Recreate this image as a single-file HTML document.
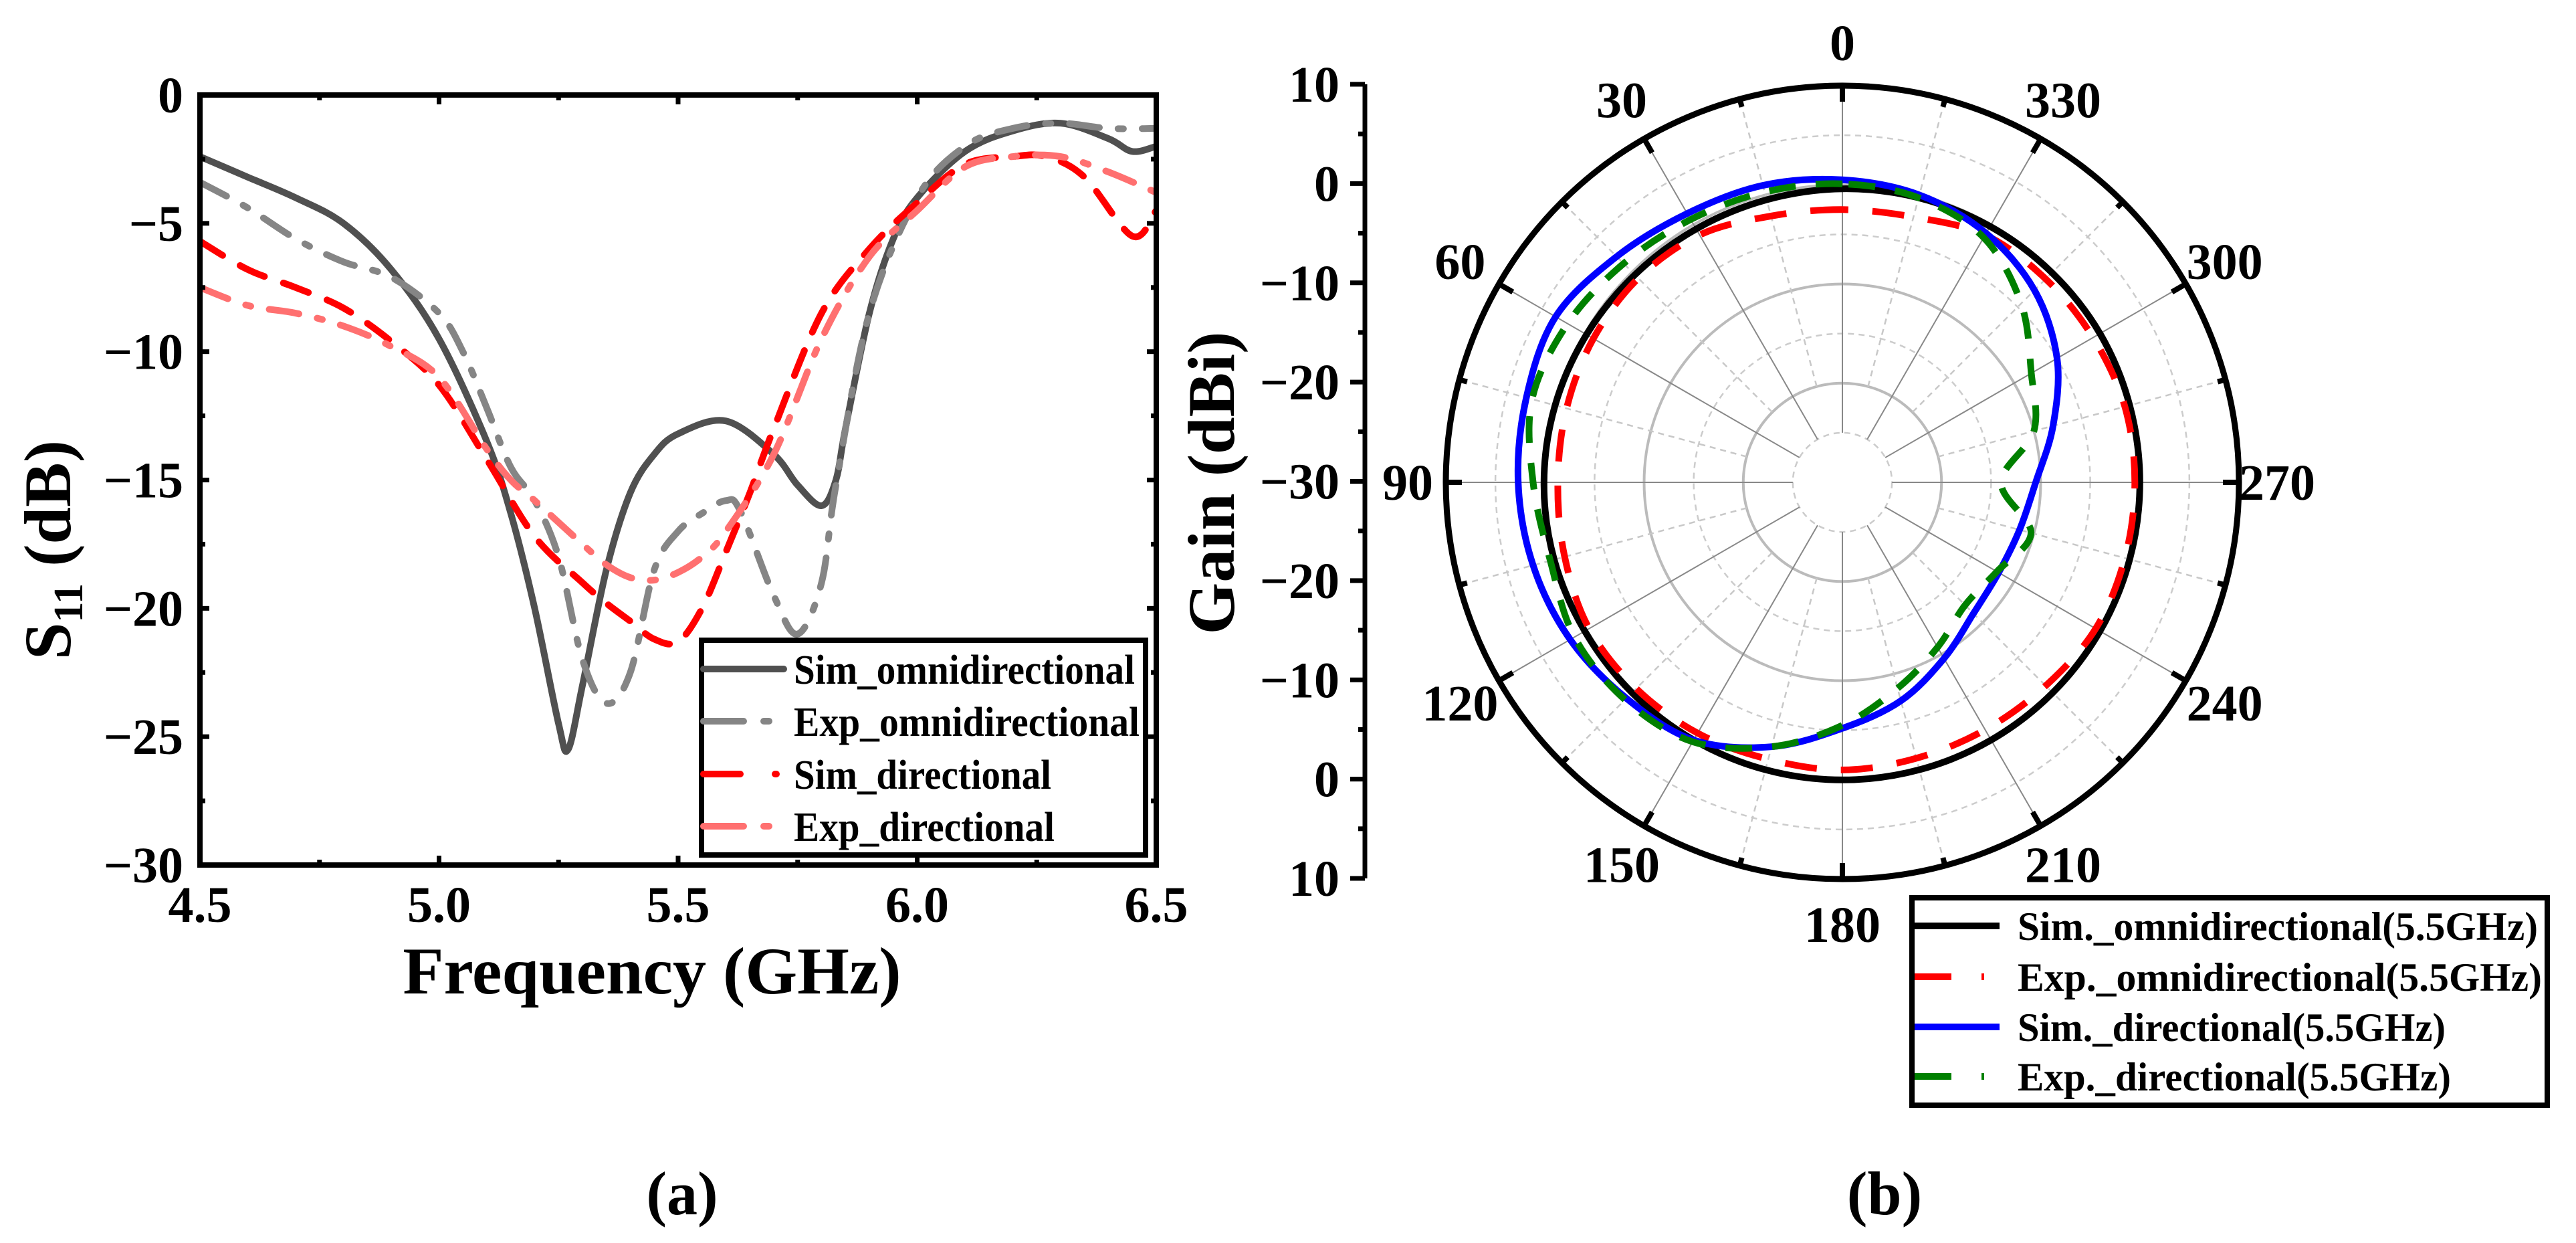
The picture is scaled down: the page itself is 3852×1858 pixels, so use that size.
<!DOCTYPE html>
<html><head><meta charset="utf-8"><style>
html,body{margin:0;padding:0;background:#fff}
svg{display:block}
text{font-family:"Liberation Serif",serif;font-weight:bold;fill:#000}
</style></head><body>
<svg id="fig" width="3852" height="1858" viewBox="0 0 3852 1858" xmlns="http://www.w3.org/2000/svg">
<g id="left"></g>
<g id="right"></g>
<text x="1020" y="1815" font-size="92" text-anchor="middle">(a)</text>
<text x="2818" y="1815" font-size="92" text-anchor="middle">(b)</text>
</svg>
<script>
// ---- Left chart data ----
const simOmniF = [4.5,4.6,4.7,4.8,4.9,5.0,5.1,5.15,5.2,5.25,5.27,5.3,5.35,5.4,5.45,5.5,5.6,5.7,5.75,5.8,5.83,5.85,5.9,5.95,6.0,6.1,6.2,6.3,6.4,6.45,6.5];
const simOmniV = [-2.4,-3.2,-4.0,-5.0,-6.8,-9.5,-13.5,-16.3,-20,-24.5,-25.5,-23,-18.5,-15.5,-14,-13.2,-12.7,-14,-15.2,-16,-15,-13,-8.5,-5.6,-4,-2.2,-1.4,-1.1,-1.7,-2.2,-2.0];
const expOmniF = [4.5,4.6,4.7,4.8,4.9,5.0,5.05,5.1,5.15,5.2,5.25,5.3,5.35,5.4,5.45,5.5,5.55,5.6,5.63,5.7,5.75,5.8,5.83,5.9,6.0,6.1,6.2,6.3,6.4,6.5];
const expOmniV = [-3.4,-4.4,-5.6,-6.5,-7.1,-8.5,-10,-12.2,-14.5,-15.8,-18,-22,-23.7,-22.5,-18.5,-17,-16.3,-15.8,-16.2,-19.5,-21,-19,-15.2,-8.5,-4.0,-2.0,-1.3,-1.1,-1.3,-1.3];
const simDirF = [4.5,4.6,4.7,4.8,4.9,5.0,5.1,5.2,5.3,5.35,5.4,5.45,5.5,5.55,5.6,5.65,5.7,5.8,5.9,6.0,6.1,6.2,6.27,6.35,6.45,6.5];
const simDirV = [-5.7,-6.8,-7.5,-8.3,-9.6,-11.3,-14.2,-17.2,-19,-19.8,-20.5,-21.2,-21.3,-20,-17.8,-15.5,-13,-8.5,-6,-4.2,-2.7,-2.4,-2.4,-3.2,-5.5,-4.5];
const expDirF = [4.5,4.6,4.7,4.8,4.9,5.0,5.1,5.15,5.2,5.3,5.35,5.4,5.45,5.5,5.55,5.6,5.7,5.8,5.9,6.0,6.1,6.2,6.3,6.4,6.5];
const expDirV = [-7.5,-8.2,-8.5,-9.0,-9.8,-11.0,-13.8,-15.0,-15.8,-17.5,-18.3,-18.8,-18.9,-18.6,-18,-17,-14,-9.5,-6.3,-4.5,-2.8,-2.4,-2.4,-3.0,-3.8];
const xTicks = ["4.5","5.0","5.5","6.0","6.5"];
const yTicks = ["0","\u22125","\u221210","\u221215","\u221220","\u221225","\u221230"];
const leftLegend = ["Sim_omnidirectional","Exp_omnidirectional","Sim_directional","Exp_directional"];

// ---- Polar data (angle deg, gain dBi) ----
const angles = [0,15,30,45,60,75,90,105,120,135,150,165,180,195,210,225,240,255,270,285,300,315,330,345];
const simOmniG = [-0.4,-0.5,-0.5,-0.4,-0.2,0,0.1,0.1,0,0,0,0,0,0,0,0,0,0,0,0,0,-0.1,-0.2,-0.3];
const expOmniG = [-2.5,-2.2,-1.2,-0.9,-1.0,-1.2,-1.3,-1.0,-0.5,-0.6,-0.8,-1.1,-1.0,-1.2,-1.2,-1.0,-0.5,-0.5,-0.5,-0.5,-0.8,-1.0,-1.2,-2.3];
const simDirG = [0.5,1.0,1.3,2.2,3.4,3.0,2.7,2.3,1.7,0.8,0,-2.4,-5.2,-7.2,-9.5,-11.3,-11.8,-11.5,-10.5,-8.0,-5.0,-2.6,-1.0,0];
const expDirG = [0.1,0.3,0.6,1.2,2.0,2.4,1.2,0.5,1.2,1.0,0.2,-2.4,-5.5,-8.5,-10.8,-12.5,-12,-10.3,-14,-10,-8,-4.5,-1.5,-0.3];
const rTicks = ["10","0","\u221210","\u221220","\u221230","\u221220","\u221210","0","10"];
const angleLabels = ["0","30","60","90","120","150","180","210","240","270","300","330"];
const rightLegend = ["Sim._omnidirectional(5.5GHz)","Exp._omnidirectional(5.5GHz)","Sim._directional(5.5GHz)","Exp._directional(5.5GHz)"];

const NS="http://www.w3.org/2000/svg";
function mk(parent,tag,attrs){const e=document.createElementNS(NS,tag);for(const k in attrs)e.setAttribute(k,attrs[k]);parent.appendChild(e);return e;}
function smooth(pts,closed){
  let d="M"+pts[0][0].toFixed(1)+","+pts[0][1].toFixed(1);
  const n=pts.length;
  const g=i=>closed?pts[(i+n)%n]:pts[Math.max(0,Math.min(n-1,i))];
  const last=closed?n:n-1;
  for(let i=0;i<last;i++){
    const p0=g(i-1),p1=g(i),p2=g(i+1),p3=g(i+2);
    const c1=[p1[0]+(p2[0]-p0[0])/6,p1[1]+(p2[1]-p0[1])/6];
    const c2=[p2[0]-(p3[0]-p1[0])/6,p2[1]-(p3[1]-p1[1])/6];
    d+=" C"+c1[0].toFixed(1)+","+c1[1].toFixed(1)+" "+c2[0].toFixed(1)+","+c2[1].toFixed(1)+" "+p2[0].toFixed(1)+","+p2[1].toFixed(1);
  }
  return d+(closed?" Z":"");
}

// ===== Left chart =====
const L=document.getElementById('left');
const X0=299,X1=1729,Y0=142,Y1=1293;
const sx=f=>X0+(f-4.5)/2*(X1-X0);
const sy=v=>Y0+(-v)/30*(Y1-Y0);
const defsL=mk(L,'defs',{});
const cp=mk(defsL,'clipPath',{id:'clipL'});
mk(cp,'rect',{x:X0,y:Y0,width:X1-X0,height:Y1-Y0});
const series=[
 [simOmniF,simOmniV,'#505050','none','sim-omni-curve'],
 [expOmniF,expOmniV,'#858585','45 28 8 28','exp-omni-curve'],
 [simDirF,simDirV,'#ff0000','40 30','sim-dir-curve'],
 [expDirF,expDirV,'#ff7070','45 28 8 28','exp-dir-curve']];
const curves=mk(L,'g',{'clip-path':'url(#clipL)'});
series.forEach(s=>{
  const pts=s[0].map((f,i)=>[sx(f),sy(s[1][i])]);
  const p=mk(curves,'path',{d:smooth(pts,false),fill:'none',stroke:s[2],'stroke-width':10,'stroke-linecap':'round','stroke-dasharray':s[3]});
  
  
});
const frame=mk(L,'rect',{x:X0,y:Y0,width:X1-X0,height:Y1-Y0,fill:'none',stroke:'#000','stroke-width':8});


for(let i=0;i<=8;i++){
  const f=4.5+i*0.25,x=sx(f),len=i%2?8:14;
  mk(L,'line',{x1:x,y1:Y1,x2:x,y2:Y1-len,stroke:'#000','stroke-width':7});
  mk(L,'line',{x1:x,y1:Y0,x2:x,y2:Y0+len,stroke:'#000','stroke-width':7});
}
for(let i=0;i<=12;i++){
  const y=sy(-i*2.5),len=i%2?8:14;
  mk(L,'line',{x1:X0,y1:y,x2:X0+len,y2:y,stroke:'#000','stroke-width':7});
  mk(L,'line',{x1:X1,y1:y,x2:X1-len,y2:y,stroke:'#000','stroke-width':7});
}
xTicks.forEach((t,i)=>{
  const e=mk(L,'text',{x:sx(4.5+i*0.5),y:1378,'font-size':76,'text-anchor':'middle'});e.textContent=t;
  
  
});
yTicks.forEach((t,i)=>{
  const e=mk(L,'text',{x:274,y:sy(-i*5)+26,'font-size':76,'text-anchor':'end'});e.textContent=t;
  
  
});
{
  const e=mk(L,'text',{x:975,y:1485,'font-size':100,'text-anchor':'middle'});
  e.textContent='Frequency  (GHz)';
  
  
  const t=mk(L,'text',{x:0,y:0,'font-size':100,'text-anchor':'middle',transform:'translate(105,822) rotate(-90)'});
  t.innerHTML='S<tspan font-size="62" dy="18">11</tspan><tspan dy="-18"> (dB)</tspan>';
  
  
}
{
  const lg=mk(L,'g',{});
  
  
  mk(lg,'rect',{x:1049,y:957,width:664,height:321,fill:'#fff',stroke:'#000','stroke-width':8});
  const ys=[1000,1078,1157,1235];
  const lens=[510,517,385,390];
  leftLegend.forEach((t,i)=>{
    const s=series[i];
    const ln=mk(lg,'line',{x1:1052,y1:ys[i],x2:1172,y2:ys[i],stroke:s[2],'stroke-width':10,'stroke-linecap':'round','stroke-dasharray':s[3]==='none'?'none':(i===2?'55 52 2 20':'60 30 8 30')});
    
    
    const e=mk(lg,'text',{x:1187,y:ys[i]+22,'font-size':62,textLength:lens[i],lengthAdjust:'spacingAndGlyphs'});e.textContent=t;
    
    
  });
}

// ===== Right polar chart =====
const R=document.getElementById('right');
const CX=2755,CY=721,RMAX=593,GMIN=-30,GMAX=10;
const rr=g=>(g-GMIN)/(GMAX-GMIN)*RMAX;
const px=(a,r)=>CX-r*Math.sin(a*Math.PI/180);
const py=(a,r)=>CY-r*Math.cos(a*Math.PI/180);
const grid=mk(R,'g',{});


for(let g=-25;g<10;g+=5){
  const major=(g%10===0);
  mk(grid,'circle',{cx:CX,cy:CY,r:rr(g),fill:'none',stroke:major?'#bbbbbb':'#cccccc','stroke-width':major?4:2.5,'stroke-dasharray':major?'none':'9 7'});
}
for(let a=0;a<360;a+=15){
  const major=a%30===0;
  const r0=major?rr(-25):rr(-20);
  mk(grid,'line',{x1:px(a,r0),y1:py(a,r0),x2:px(a,RMAX),y2:py(a,RMAX),stroke:major?'#888':'#c8c8c8','stroke-width':major?2:2.5,'stroke-dasharray':major?'none':'9 7'});
}
const pser=[
 [simOmniG,'#000','none','sim-omni-pattern'],
 [expOmniG,'#ff0000','48 36','exp-omni-pattern'],
 [simDirG,'#0000ff','none','sim-dir-pattern'],
 [expDirG,'#008000','40 30','exp-dir-pattern']];
pser.forEach(s=>{
  const pts=angles.map((a,i)=>[px(a,rr(s[0][i])),py(a,rr(s[0][i]))]);
  const p=mk(R,'path',{d:smooth(pts,true),fill:'none',stroke:s[1],'stroke-width':10,'stroke-dasharray':s[2]});
  
  
});
{
  const oc=mk(R,'circle',{cx:CX,cy:CY,r:RMAX,fill:'none',stroke:'#000','stroke-width':9});
  
  
}
for(let a=0;a<360;a+=15){
  const len=a%30===0?24:12;
  mk(R,'line',{x1:px(a,RMAX),y1:py(a,RMAX),x2:px(a,RMAX-len),y2:py(a,RMAX-len),stroke:'#000','stroke-width':8});
}
angleLabels.forEach((t,i)=>{
  const a=i*30;
  let rad=660; if(a===0) rad=650;
  if(a===90||a===270) rad=650;
  let x=px(a,rad),y=py(a,rad)+26;
  if(a===180){y=1408;}
  if(a===0){y=90;}
  const e=mk(R,'text',{x:x,y:y,'font-size':76,'text-anchor':'middle'});e.textContent=t;
  
  
});
{
  const ax=mk(R,'line',{x1:2041,y1:126,x2:2041,y2:1313,stroke:'#000','stroke-width':7});
  
  
  const step=(1313-126)/8;
  for(let i=0;i<=16;i++){
    const y=126+i*step/2,len=i%2?10:22;
    mk(R,'line',{x1:2041,y1:y,x2:2041-len,y2:y,stroke:'#000','stroke-width':7});
  }
  rTicks.forEach((t,i)=>{
    const e=mk(R,'text',{x:2003,y:126+i*step+26,'font-size':76,'text-anchor':'end'});e.textContent=t;
    
    
  });
  const tt=mk(R,'text',{x:0,y:0,'font-size':100,'text-anchor':'middle',transform:'translate(1845,722) rotate(-90)'});
  tt.textContent='Gain (dBi)';
  
  
}
{
  const lg=mk(R,'g',{});
  
  
  mk(lg,'rect',{x:2859,y:1342,width:950,height:310,fill:'#fff',stroke:'#000','stroke-width':8});
  const ys=[1384,1460,1535,1609];
  const lens=[778,784,640,648];
  const dash=['none','55 45 4 30','none','55 45 4 30'];
  rightLegend.forEach((t,i)=>{
    const ln=mk(lg,'line',{x1:2863,y1:ys[i],x2:2990,y2:ys[i],stroke:pser[i][1],'stroke-width':10,'stroke-dasharray':dash[i]});
    
    
    const e=mk(lg,'text',{x:3017,y:ys[i]+21,'font-size':60,textLength:lens[i],lengthAdjust:'spacingAndGlyphs'});e.textContent=t;
    
    
  });
}
</script>
</body></html>
